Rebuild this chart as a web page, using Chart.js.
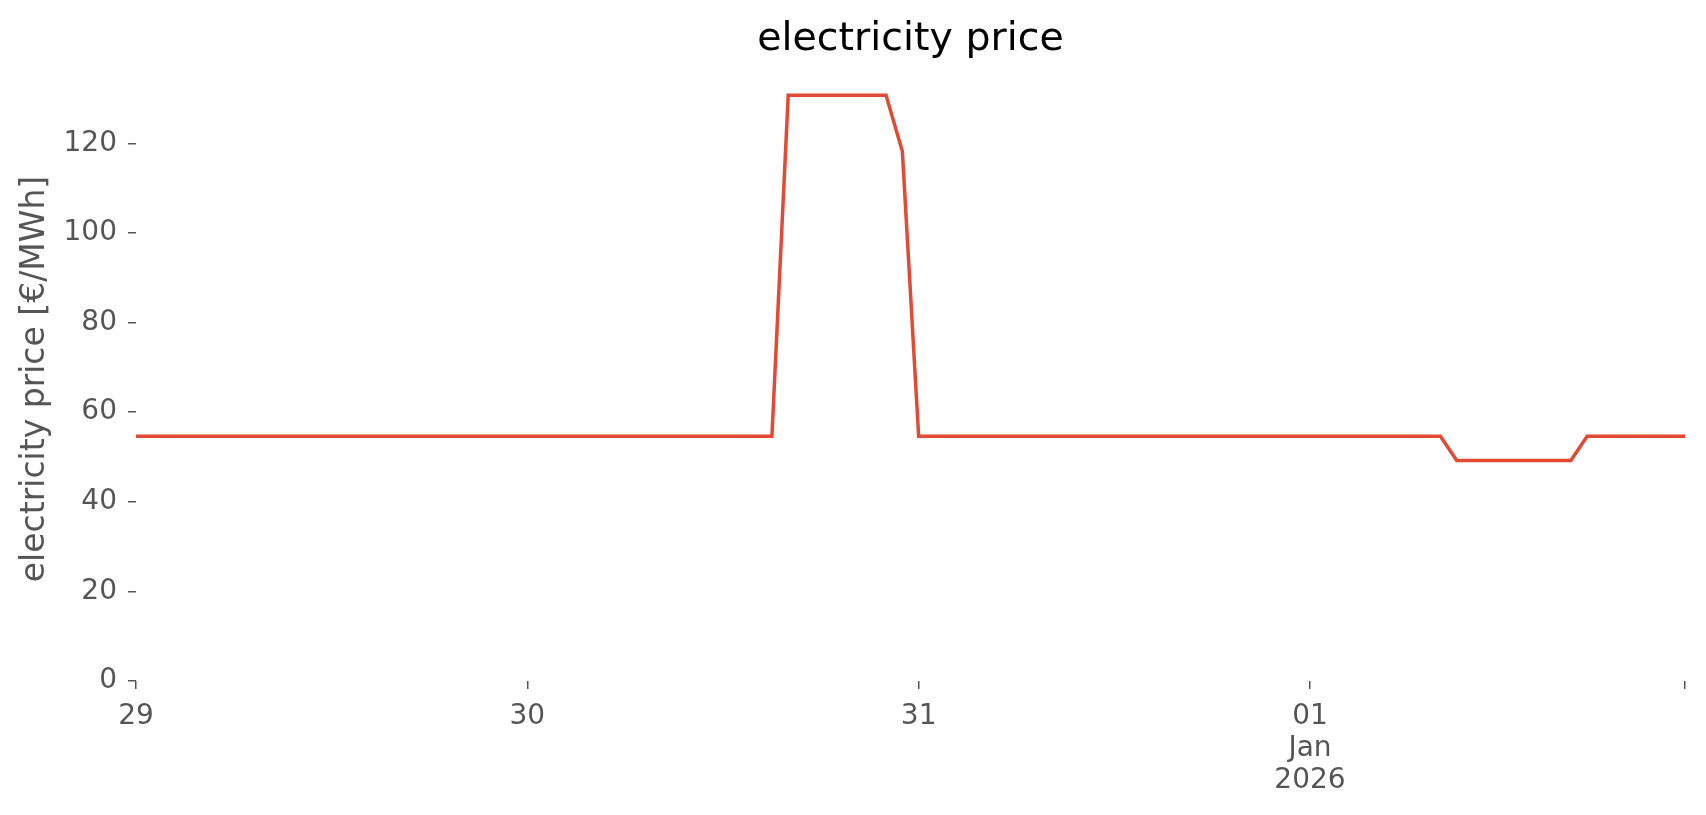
<!DOCTYPE html>
<html>
<head>
<meta charset="utf-8">
<title>electricity price</title>
<script src="https://cdn.jsdelivr.net/npm/chart.js@4/dist/chart.umd.min.js"></script>
<style>
  html, body { margin: 0; padding: 0; background: #fff; }
  #wrap { width: 1706px; height: 815px; }
</style>
</head>
<body>
<div id="wrap"><canvas id="priceChart" width="1706" height="815"></canvas></div>
<script>
// Hourly electricity price, 29 Dec 2025 00:00 .. 01 Jan 2026 23:00 (two rows per day)
const prices = [
    54.6, 54.6, 54.6, 54.6, 54.6, 54.6, 54.6, 54.6, 54.6, 54.6, 54.6, 54.6,
    54.6, 54.6, 54.6, 54.6, 54.6, 54.6, 54.6, 54.6, 54.6, 54.6, 54.6, 54.6,
    54.6, 54.6, 54.6, 54.6, 54.6, 54.6, 54.6, 54.6, 54.6, 54.6, 54.6, 54.6,
    54.6, 54.6, 54.6, 54.6, 130.7, 130.7, 130.7, 130.7, 130.7, 130.7, 130.7, 118.2,
    54.6, 54.6, 54.6, 54.6, 54.6, 54.6, 54.6, 54.6, 54.6, 54.6, 54.6, 54.6,
    54.6, 54.6, 54.6, 54.6, 54.6, 54.6, 54.6, 54.6, 54.6, 54.6, 54.6, 54.6,
    54.6, 54.6, 54.6, 54.6, 54.6, 54.6, 54.6, 54.6, 54.6, 49.2, 49.2, 49.2,
    49.2, 49.2, 49.2, 49.2, 49.2, 54.6, 54.6, 54.6, 54.6, 54.6, 54.6, 54.6
];

// x ticks: hour offset from the first sample, and their labels
const xTickHours = [0, 24, 48, 72, 95];
const xTickLabels = ['29', '30', '31', ['01', 'Jan', '2026'], ''];

const yTicks = [0, 20, 40, 60, 80, 100, 120];
const yMax = 134.8;

const chartTitle = 'electricity price';
const yTitle = 'electricity price [€/MWh]';

const FONT = "'DejaVu Sans', sans-serif";
const GREY = '#555555';

// the line needs {x, y} points for a linear x scale (x = hour index)
const points = prices.map((v, i) => ({ x: i, y: v }));

// title centred over the plot area (like matplotlib), not over the whole canvas
const plotTitle = {
    id: 'plotTitle',
    afterDraw(chart) {
        const { ctx, chartArea } = chart;
        ctx.save();
        ctx.font = '39.5px ' + FONT;
        ctx.fillStyle = '#000';
        ctx.textAlign = 'center';
        ctx.textBaseline = 'middle';
        ctx.fillText(chartTitle, (chartArea.left + chartArea.right) / 2, 40);
        ctx.restore();
    }
};

new Chart(document.getElementById('priceChart'), {
    type: 'line',
    data: {
        datasets: [{
            label: chartTitle,
            data: points,
            borderColor: '#E24A33',
            borderWidth: 3.5,
            pointRadius: 0,
            tension: 0,
            fill: false
        }]
    },
    options: {
        responsive: false,
        animation: false,
        layout: { padding: { left: 0, right: 21, top: 77, bottom: 0 } },
        plugins: {
            legend: { display: false },
            tooltip: { enabled: false },
            title: { display: false }
        },
        scales: {
            x: {
                type: 'linear',
                min: 0,
                max: 95,
                border: { display: false },
                grid: {
                    display: true,
                    drawOnChartArea: false,
                    drawTicks: true,
                    tickLength: 8,
                    color: GREY,
                    lineWidth: 1.5
                },
                afterBuildTicks: scale => {
                    scale.ticks = xTickHours.map(h => ({ value: h }));
                },
                afterFit: scale => { scale.height = 134; },
                ticks: {
                    autoSkip: false,
                    maxRotation: 0,
                    padding: 11,
                    color: GREY,
                    font: { family: FONT, size: 28, lineHeight: 1.16 },
                    callback: (value) => {
                        const i = xTickHours.indexOf(value);
                        return i >= 0 ? xTickLabels[i] : '';
                    }
                }
            },
            y: {
                min: 0,
                max: yMax,
                border: { display: false },
                grid: {
                    display: true,
                    drawOnChartArea: false,
                    drawTicks: true,
                    tickLength: 8,
                    color: GREY,
                    lineWidth: 1.5
                },
                afterBuildTicks: scale => {
                    scale.ticks = yTicks.map(v => ({ value: v }));
                },
                afterFit: scale => { scale.width = 136; },
                ticks: {
                    padding: 11,
                    color: GREY,
                    font: { family: FONT, size: 28 }
                },
                title: {
                    display: true,
                    text: yTitle,
                    color: GREY,
                    font: { family: FONT, size: 33, lineHeight: 1.2 },
                    padding: { top: 16, bottom: 0 }
                }
            }
        }
    },
    plugins: [plotTitle]
});
</script>
</body>
</html>
